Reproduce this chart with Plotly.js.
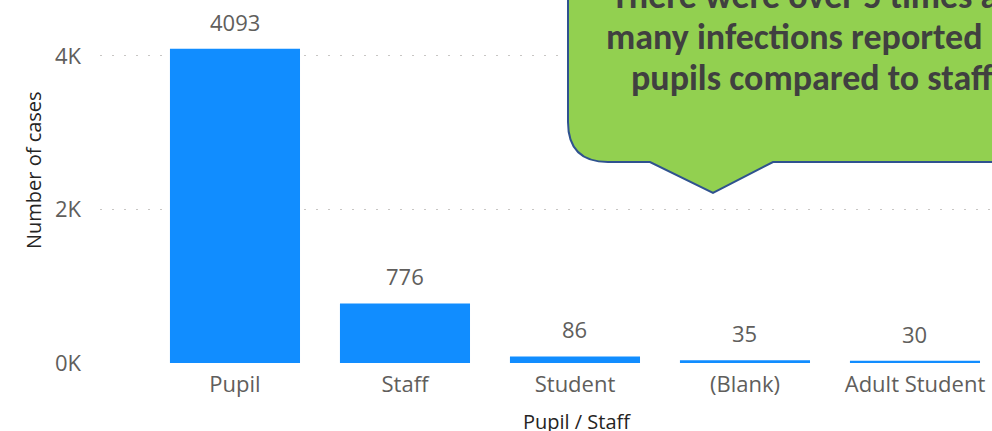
<!DOCTYPE html>
<html>
<head>
<meta charset="utf-8">
<script src="https://cdn.plot.ly/plotly-3.0.1.min.js"></script>
<style>html,body{margin:0;padding:0;background:#fff;overflow:hidden}#chart{width:992px;height:431px}</style>
</head>
<body>
<div id="chart"></div>
<script>
var categories = ["Pupil", "Staff", "Student", "(Blank)", "Adult Student"];
var cases = [4093, 776, 86, 35, 30];
var tickValues = [0, 2000, 4000];
var tickLabels = ["0K", "2K", "4K"];
var calloutLines = ["There were over 5 times as", "many infections reported in", "pupils compared to staff"];
var xTitle = "Pupil / Staff";
var yTitle = "Number of cases";

var W = 992, H = 431, L = 100, R = 0, T = 10, B = 68;
var pw = W - L - R, ph = H - T - B;
function px(x){ return (x - L) / pw; }
function py(y){ return (H - B - y) / ph; }

var uiFont = "Segoe UI, 'Open Sans', 'Noto Sans', sans-serif";

var labelAnnotations = categories.map(function(c, i){
  return {x: c, y: cases[i], xref: 'x', yref: 'y', text: String(cases[i]),
    showarrow: false, yanchor: 'bottom', yshift: 10,
    font: {family: uiFont, size: 22, color: '#605E5C'}};
});

var calloutPath = 'M ' + px(568) + ',' + py(-60) +
  ' L ' + px(568) + ',' + py(122) +
  ' Q ' + px(568) + ',' + py(162) + ' ' + px(608) + ',' + py(162) +
  ' L ' + px(650) + ',' + py(162) +
  ' L ' + px(713) + ',' + py(193) +
  ' L ' + px(773) + ',' + py(162) +
  ' L ' + px(1062) + ',' + py(162) +
  ' L ' + px(1062) + ',' + py(-60) + ' Z';

var lineY = [-4, 37, 78];
var calloutAnnotations = calloutLines.map(function(t, i){
  return {x: px(812), y: py(lineY[i]), xref: 'paper', yref: 'paper', text: '<b>' + t + '</b>',
    showarrow: false, xanchor: 'center', yanchor: 'middle',
    font: {family: "Calibri, Carlito, Lato, 'Open Sans', sans-serif", size: 36, color: '#404040'}};
});

var titleAnnotations = [
  {x: px(33), y: py(170), xref: 'paper', yref: 'paper', text: yTitle, textangle: -90,
    showarrow: false, xanchor: 'center', yanchor: 'middle',
    font: {family: uiFont, size: 20, color: '#252423'}},
  {x: px(577), y: py(421), xref: 'paper', yref: 'paper', text: xTitle,
    showarrow: false, xanchor: 'center', yanchor: 'middle',
    font: {family: uiFont, size: 20, color: '#252423'}}
];

var data = [{
  type: 'bar', x: categories, y: cases,
  marker: {color: '#118DFF'}, hoverinfo: 'skip'
}];

var layout = {
  width: W, height: H,
  margin: {l: L, r: R, t: T, b: B, pad: 0},
  paper_bgcolor: '#fff', plot_bgcolor: '#fff',
  showlegend: false,
  bargap: 0.235,
  xaxis: {
    type: 'category', range: [-0.794, 4.453],
    showgrid: false, zeroline: false, showline: false, ticks: '',
    ticklabelstandoff: 6,
    tickfont: {family: uiFont, size: 22, color: '#605E5C'}
  },
  yaxis: {
    range: [0, 4599], tickvals: tickValues, ticktext: tickLabels,
    showgrid: true, gridcolor: '#C8C6C4', griddash: '2px,10px', gridwidth: 1,
    zeroline: false, showline: false, ticks: '',
    ticklabelstandoff: 18,
    tickfont: {family: uiFont, size: 22, color: '#605E5C'}
  },
  shapes: [{
    type: 'path', xref: 'paper', yref: 'paper', path: calloutPath,
    fillcolor: '#92D050', line: {color: '#2F528F', width: 2}, layer: 'above'
  }],
  annotations: labelAnnotations.concat(calloutAnnotations, titleAnnotations)
};

Plotly.newPlot('chart', data, layout, {displayModeBar: false, staticPlot: true});
</script>
</body>
</html>
